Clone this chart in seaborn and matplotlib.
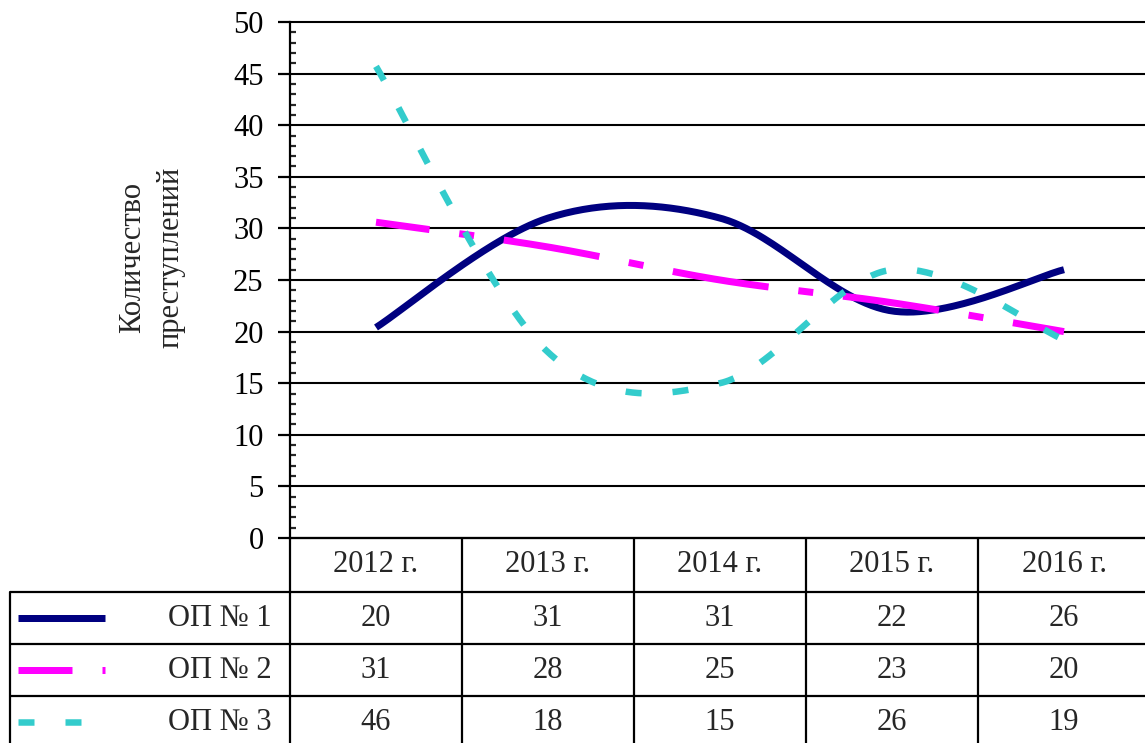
import numpy as np
import pandas as pd
import seaborn as sns
import matplotlib.pyplot as plt
from matplotlib.ticker import MultipleLocator

# Data
years = ['2012 г.', '2013 г.', '2014 г.', '2015 г.', '2016 г.']
series_names = ['ОП № 1', 'ОП № 2', 'ОП № 3']
op1 = [20.4, 31, 31, 22, 26]
op2 = [30.6, 28.2, 25, 22.8, 20]
op3 = [45.7, 18, 15, 26, 19.2]
table_op1 = [20, 31, 31, 22, 26]
table_op2 = [31, 28, 25, 23, 20]
table_op3 = [46, 18, 15, 26, 19]

colors = ['#000080', '#FF00FF', '#33CCCC']

sns.set_style('white')
plt.rcParams['font.family'] = ['Liberation Serif', 'DejaVu Serif']
plt.rcParams['lines.scale_dashes'] = False

W, H = 1145, 743
px = 0.72  # points per pixel at dpi 100
styles = [
    {'linestyle': '-', 'lw': 7 * px},
    {'linestyle': (43 * px, (97 * px, 30 * px, 15 * px, 30 * px)), 'lw': 7 * px},
    {'linestyle': (0, (16 * px, 31 * px)), 'lw': 6.5 * px},
]


def smooth(ys, n=60):
    # bezier smoothing like spreadsheet "smoothed line"
    p = np.column_stack([np.arange(len(ys)), ys]).astype(float)
    ext = np.vstack([p[0], p, p[-1]])
    out = []
    for i in range(len(p) - 1):
        p0, p1 = p[i], p[i + 1]
        c1 = p0 + (ext[i + 2] - ext[i]) / 6
        c2 = p1 - (ext[i + 3] - ext[i + 1]) / 6
        t = np.linspace(0, 1, n)[:, None]
        seg = (1 - t) ** 3 * p0 + 3 * (1 - t) ** 2 * t * c1 + 3 * (1 - t) * t ** 2 * c2 + t ** 3 * p1
        out.append(seg if i == 0 else seg[1:])
    return np.vstack(out)


fig = plt.figure(figsize=(W / 100, H / 100), dpi=100)
left, right, top, bottom = 290, 1150, 22, 538
ax = fig.add_axes([left / W, (H - bottom) / H, (right - left) / W, (bottom - top) / H])

for name, vals, c, st in zip(series_names, [op1, op2, op3], colors, styles):
    curve = smooth(vals)
    df = pd.DataFrame({'x': curve[:, 0], 'y': curve[:, 1]})
    sns.lineplot(data=df, x='x', y='y', sort=False, estimator=None, ax=ax,
                 color=c, linewidth=st['lw'])
    ln = ax.lines[-1]
    ln.set_linestyle(st['linestyle'])
    ln.set_solid_capstyle('butt')
    ln.set_dash_capstyle('butt')

ax.set_xlim(-0.5, len(years) - 0.5)
ax.set_ylim(0, 50)
ax.yaxis.set_major_locator(MultipleLocator(5))
ax.yaxis.set_minor_locator(MultipleLocator(1))
ax.grid(axis='y', which='major', color='black', linewidth=1.5)
ax.set_axisbelow(True)
for gl in ax.get_ygridlines():
    gl.set_clip_on(False)
ax.tick_params(axis='y', which='major', direction='out', length=9, width=1.6,
               labelsize=22, pad=10, left=True, colors='black')
ax.tick_params(axis='y', which='minor', direction='in', length=4.5, width=1.6, left=True)
ax.tick_params(axis='x', bottom=False, labelbottom=False)
ax.set_xlabel('')
ax.set_ylabel('')
for s in ['top', 'right']:
    ax.spines[s].set_visible(False)
for s in ['left', 'bottom']:
    ax.spines[s].set_linewidth(1.6)
    ax.spines[s].set_color('black')

fig.text(152 / W, (H - 257) / H, 'Количество\nпреступлений', rotation=90,
         ha='center', va='center', multialignment='center', fontsize=22,
         linespacing=1.45)

# Data table below the chart
tab = fig.add_axes([0, 0, 1, 1], zorder=-1)
tab.set_xlim(0, W)
tab.set_ylim(H, 0)
tab.axis('off')
colw = (right - left) / len(years)
rows = [538, 592, 644, 696, 748]
lw_t = 1.6
for y in rows[1:]:
    tab.plot([10, right], [y, y], color='black', lw=lw_t, solid_capstyle='butt')
for i in range(len(years) + 1):
    x = left + i * colw
    tab.plot([x, x], [rows[0], rows[-1]], color='black', lw=lw_t)
tab.plot([10, 10], [rows[1], rows[-1]], color='black', lw=lw_t)

for i, yr in enumerate(years):
    tab.text(left + (i + 0.5) * colw, (rows[0] + rows[1]) / 2, yr,
             ha='center', va='center', fontsize=22)

for r, (name, vals, c, st) in enumerate(zip(series_names, [table_op1, table_op2, table_op3],
                                           colors, styles)):
    yc = (rows[r + 1] + rows[r + 2]) / 2
    tab.text(272, yc, name, ha='right', va='center', fontsize=22)
    sample, = tab.plot([18, 105], [yc, yc], color=c, lw=st['lw'])
    sample.set_linestyle(st['linestyle'])
    sample.set_solid_capstyle('butt')
    sample.set_dash_capstyle('butt')
    for i, v in enumerate(vals):
        tab.text(left + (i + 0.5) * colw, yc, str(v), ha='center', va='center', fontsize=22)

fig.savefig('out.png', dpi=100)
